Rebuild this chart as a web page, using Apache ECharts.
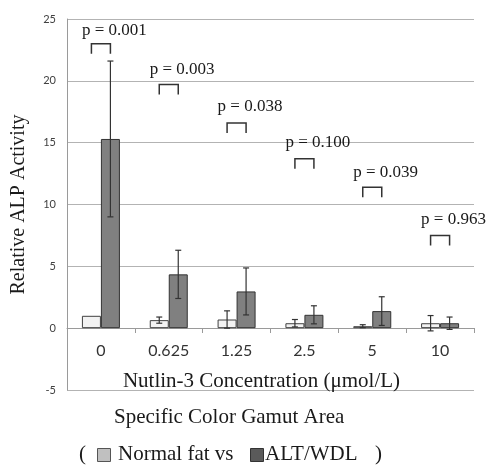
<!DOCTYPE html>
<html>
<head>
<meta charset="utf-8">
<script src="https://cdn.jsdelivr.net/npm/echarts@6/dist/echarts.min.js"></script>
<style>
    html, body { margin: 0; padding: 0; background: #fff; }
    #chart { width: 486px; height: 465px; }
</style>
</head>
<body>
<div id="chart"></div>
<script>
// values
var categories = ['0', '0.625', '1.25', '2.5', '5', '10'];
var normalFat = [1.0, 0.65, 0.7, 0.4, 0.16, 0.4];
var normalErr = [0, 0.25, 0.7, 0.3, 0.12, 0.62];
var altWdl = [15.3, 4.35, 2.97, 1.08, 1.38, 0.4];
var altErr = [6.3, 1.95, 1.9, 0.73, 1.16, 0.5];
var pValues = ['p = 0.001', 'p = 0.003', 'p = 0.038', 'p = 0.100', 'p = 0.039', 'p = 0.963'];
var bracketTop = [23.0, 19.7, 16.6, 13.7, 11.4, 7.5];
var pLabelY = [24.1, 20.9, 17.9, 15.0, 12.6, 8.8];
var seriesNames = ['Normal fat vs', 'ALT/WDL'];

var serif = 'Liberation Serif';
var serifFont = '21px "Liberation Serif"';
var barW = 19;

var chart = echarts.init(document.getElementById('chart'));

function errData(vals, errs) {
    var out = [];
    for (var i = 0; i < vals.length; i++) {
        out.push([i, vals[i] - errs[i], vals[i] + errs[i]]);
    }
    return out;
}

function errRender(offset) {
    return function (params, api) {
        if (api.value(2) - api.value(1) <= 0) return;
        var lo = api.coord([api.value(0), api.value(1)]);
        var hi = api.coord([api.value(0), api.value(2)]);
        var x = lo[0] + offset;
        var cap = 3;
        var st = { stroke: '#333', lineWidth: 1.2 };
        return {
            type: 'group',
            children: [
                { type: 'line', shape: { x1: x, y1: lo[1], x2: x, y2: hi[1] }, style: st },
                { type: 'line', shape: { x1: x - cap, y1: lo[1], x2: x + cap, y2: lo[1] }, style: st },
                { type: 'line', shape: { x1: x - cap, y1: hi[1], x2: x + cap, y2: hi[1] }, style: st }
            ]
        };
    };
}

var bracketData = [];
for (var i = 0; i < categories.length; i++) {
    bracketData.push([i, bracketTop[i], pLabelY[i], pValues[i]]);
}

option = {
    animation: false,
    grid: { left: 67, right: 12, top: 19, bottom: 75 },
    xAxis: {
        type: 'category',
        data: categories,
        offset: -62,
        name: 'Nutlin-3 Concentration (μmol/L)',
        nameLocation: 'middle',
        nameGap: 43,
        nameTextStyle: { fontFamily: serif, fontSize: 21, color: '#1a1a1a', padding: [0, 18, 0, 0] },
        axisLine: { onZero: false, lineStyle: { color: '#9a9a9a', width: 1 } },
        axisTick: { show: true, length: 5, lineStyle: { color: '#9a9a9a' } },
        axisLabel: { margin: 15, fontFamily: 'Lato, sans-serif', fontSize: 16, color: '#333' }
    },
    yAxis: {
        type: 'value',
        min: -5,
        max: 25,
        interval: 5,
        name: 'Relative ALP Activity',
        nameLocation: 'middle',
        nameGap: 38,
        nameRotate: 90,
        nameTextStyle: { fontFamily: serif, fontSize: 20, color: '#1a1a1a' },
        axisLine: { show: true, lineStyle: { color: '#9a9a9a' } },
        axisTick: { show: false },
        axisLabel: { margin: 11, fontFamily: 'Lato, sans-serif', fontSize: 11, color: '#404040' },
        splitLine: { lineStyle: { color: '#b3b3b3', width: 1 } }
    },
    series: [{
        name: seriesNames[0],
        type: 'bar',
        data: normalFat,
        barWidth: barW,
        barGap: '0%',
        itemStyle: { color: '#f2f2f2', borderColor: '#404040', borderWidth: 1 }
    }, {
        name: seriesNames[1],
        type: 'bar',
        data: altWdl,
        barWidth: barW,
        barGap: '0%',
        itemStyle: { color: '#808080', borderColor: '#333', borderWidth: 1 }
    }, {
        type: 'custom',
        renderItem: errRender(-barW / 2),
        data: errData(normalFat, normalErr),
        z: 5
    }, {
        type: 'custom',
        renderItem: errRender(barW / 2),
        data: errData(altWdl, altErr),
        z: 5
    }, {
        type: 'custom',
        data: bracketData,
        z: 6,
        renderItem: function (params, api) {
            var top = api.coord([api.value(0), api.value(1)]);
            var lab = api.coord([api.value(0), api.value(2)]);
            var cx = top[0];
            var x1 = cx - barW / 2, x2 = cx + barW / 2;
            var y = top[1];
            var st = { stroke: '#333', lineWidth: 1.5, fill: null };
            return {
                type: 'group',
                children: [{
                    type: 'polyline',
                    shape: { points: [[x1, y + 10], [x1, y], [x2, y], [x2, y + 10]] },
                    style: st
                }, {
                    type: 'text',
                    style: {
                        text: bracketData[params.dataIndex][3],
                        x: cx - 19,
                        y: lab[1],
                        textAlign: 'left',
                        textVerticalAlign: 'middle',
                        font: '17px "' + serif + '"',
                        fill: '#1a1a1a'
                    }
                }]
            };
        }
    }],
    // caption and the bracketed key below the chart
    graphic: [{
        type: 'text',
        left: 114,
        top: 407,
        style: { text: 'Specific Color Gamut Area', font: serifFont, fill: '#1a1a1a' }
    }, {
        type: 'text',
        left: 79,
        top: 444,
        style: { text: '(', font: serifFont, fill: '#1a1a1a' }
    }, {
        type: 'rect',
        left: 97,
        top: 448,
        shape: { width: 13, height: 13 },
        style: { fill: '#c0c0c0', stroke: '#555', lineWidth: 1 }
    }, {
        type: 'text',
        left: 118,
        top: 444,
        style: { text: seriesNames[0], font: serifFont, fill: '#1a1a1a' }
    }, {
        type: 'rect',
        left: 250,
        top: 448,
        shape: { width: 13, height: 13 },
        style: { fill: '#5a5a5a', stroke: '#333', lineWidth: 1 }
    }, {
        type: 'text',
        left: 265,
        top: 444,
        style: { text: seriesNames[1], font: serifFont, fill: '#1a1a1a' }
    }, {
        type: 'text',
        left: 375,
        top: 444,
        style: { text: ')', font: serifFont, fill: '#1a1a1a' }
    }]
};

chart.setOption(option);
</script>
</body>
</html>
